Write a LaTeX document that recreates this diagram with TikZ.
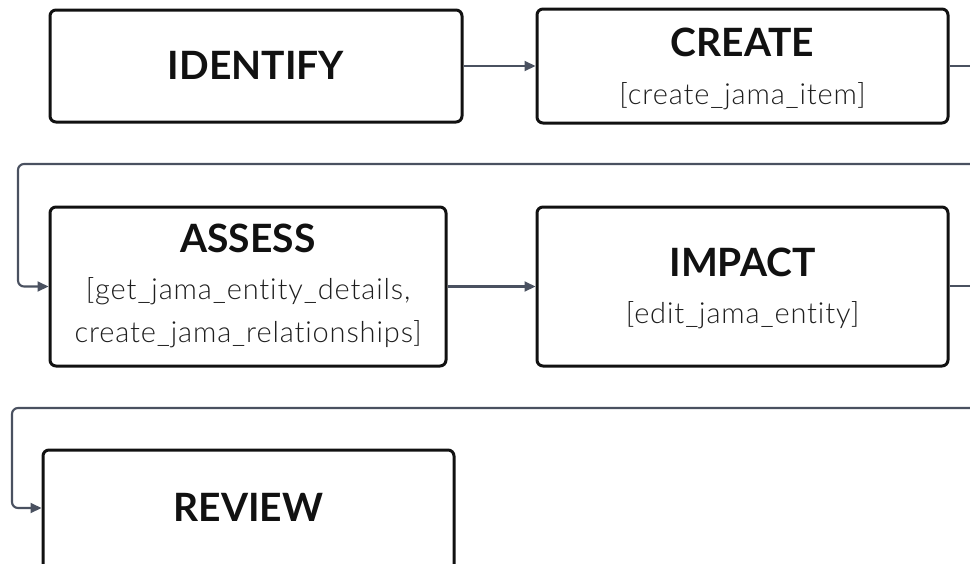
\documentclass[tikz,border=0pt]{standalone}
\usepackage{fontspec}
\setmainfont{Lato}
\newfontfamily\lightface[LetterSpace=3,Ligatures=CommonOff]{Lato Light}
\usetikzlibrary{arrows.meta}
\definecolor{edge}{HTML}{4A5160}
\definecolor{ink}{HTML}{111111}
\definecolor{subink}{HTML}{1E1E1E}
\begin{document}
\begin{tikzpicture}[x=1pt,y=-1pt,
  stage/.style={draw=ink,line width=3pt,rounded corners=6pt,fill=white,inner sep=0pt},
  ttl/.style={anchor=base,inner sep=0pt,text=ink,font=\fontsize{39}{46}\selectfont\bfseries},
  sub/.style={anchor=base,inner sep=0pt,text=subink,font=\lightface\fontsize{29}{34}\selectfont},
  link/.style={draw=edge,line width=2.1pt},
  flow/.style={link,-{Triangle[length=11pt,width=10pt]}}]
\useasboundingbox (0,0) rectangle (970,563);

% stage boxes
\node[stage,minimum width=412pt,minimum height=112pt] (identify) at (256,66) {};
\node[stage,minimum width=411pt,minimum height=114pt] (create) at (742.5,66) {};
\node[stage,minimum width=396pt,minimum height=159pt] (assess) at (248,286.5) {};
\node[stage,minimum width=411pt,minimum height=159pt] (impact) at (742.5,286.5) {};
\node[stage,minimum width=411pt,minimum height=124pt] (review) at (248.5,512) {};

% labels
\node[ttl] (identify-t) at (256,79) {IDENTIFY};
\node[ttl] (create-t) at (742.5,56) {CREATE};
\node[sub] (create-s) at (742.5,104) {[create\_jama\_item]};
\node[ttl] (assess-t) at (248,252) {ASSESS};
\node[sub] (assess-s1) at (248,299) {[get\_jama\_entity\_details,};
\node[sub] (assess-s2) at (248,342) {create\_jama\_relationships]};
\node[ttl] (impact-t) at (742.5,276) {IMPACT};
\node[sub] (impact-s) at (742.5,323) {[edit\_jama\_entity]};
\node[ttl] (review-t) at (248.5,521) {REVIEW};

% connectors
\coordinate (out1) at (972,66);
\coordinate (in1) at (972,164);
\coordinate (turn1) at (18,164);
\coordinate (out2) at (972,286);
\coordinate (in2) at (972,408);
\coordinate (turn2) at (12,408);

\draw[flow] (identify.east) -- (create.west);
\draw[link] (create.east) -- (out1);
\draw[flow,rounded corners=6pt] (in1) -- (turn1) |- (assess.west);
\draw[flow] (assess.east) -- (impact.west);
\draw[link] (impact.east |- out2) -- (out2);
\draw[flow,rounded corners=6pt] (in2) -- (turn2) |- (review.west |- 0,508);
\end{tikzpicture}
\end{document}
